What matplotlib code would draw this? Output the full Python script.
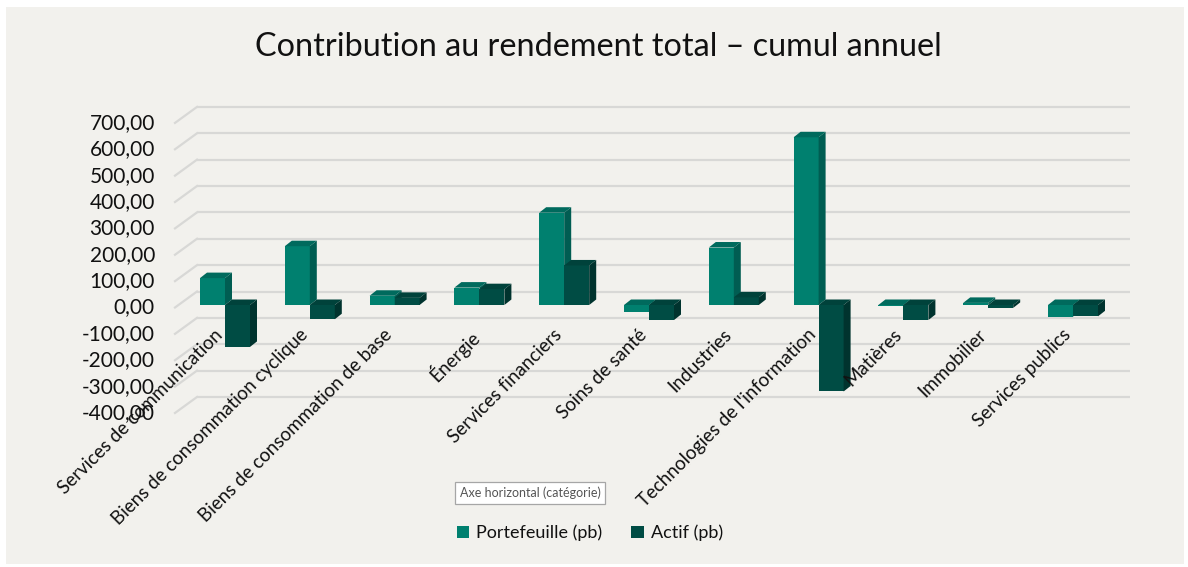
import matplotlib
matplotlib.use("Agg")
import matplotlib.pyplot as plt
from matplotlib.patches import Rectangle, Polygon
import matplotlib.transforms as mtransforms

categories = ["Services de communication", "Biens de consommation cyclique",
              "Biens de consommation de base", "Énergie", "Services financiers",
              "Soins de santé", "Industries", "Technologies de l'information",
              "Matières", "Immobilier", "Services publics"]
portefeuille = [102, 223, 35, 66, 350, -27, 218, 636, -3, 8, -44]
actif = [-159, -54, 27, 60, 150, -57, 29, -328, -57, -11, -43]
yticks = [-400, -300, -200, -100, 0, 100, 200, 300, 400, 500, 600, 700]
series_names = ["Portefeuille (pb)", "Actif (pb)"]

FONT = ["Lato", "DejaVu Sans"]
plt.rcParams["font.family"] = FONT

W, H, DPI = 1188, 567, 100
fig = plt.figure(figsize=(W / DPI, H / DPI), dpi=DPI, facecolor="white")

# panel background
fig.patches.append(Rectangle((6 / W, 3 / H), (1184 - 6) / W, (562 - 5) / H,
                             transform=fig.transFigure, facecolor="#f2f1ed",
                             edgecolor="none", zorder=-5))

# axes geometry (pixels from top-left)
ax_l, ax_r, ax_t, ax_b = 175, 1135, 95, 428
ax = fig.add_axes([ax_l / W, 1 - ax_b / H, (ax_r - ax_l) / W, (ax_b - ax_t) / H])
ax.set_facecolor("none")
ax.set_zorder(2)
px_per_x = 84.8
x0_px = 225
px_per_v = 0.2637
zero_px = 307.5
ax.set_xlim((ax_l - x0_px) / px_per_x, (ax_r - x0_px) / px_per_x)
ax.set_ylim((zero_px - ax_b) / px_per_v, (zero_px - ax_t) / px_per_v)
for s in ax.spines.values():
    s.set_visible(False)
ax.set_xticks([])
ax.set_yticks(yticks)
ax.set_yticklabels([f"{v:.2f}".replace(".", ",") for v in yticks],
                   fontsize=15, color="#111111")
ax.tick_params(axis="y", length=0, pad=14.4)
for lbl in ax.get_yticklabels():
    lbl.set_verticalalignment("center")

# back-wall gridlines
back_dx, back_dy = 22, 16  # pixels
back = ax.transData + mtransforms.ScaledTranslation(back_dx / DPI, back_dy / DPI,
                                                    fig.dpi_scale_trans)
xl, xr = ax.get_xlim()
grid_c = "#d8d8d6"
for v in yticks:
    ax.plot([xl, xr - 27 / px_per_x], [v, v], transform=back, color=grid_c,
            lw=1.6, zorder=1, solid_capstyle="butt", clip_on=False)
    ax.plot([xl, xl + back_dx / px_per_x], [v, v + back_dy / px_per_v],
            color=grid_c, lw=1.6, zorder=1, clip_on=False)

# 3D-looking bars (sitting slightly behind the front edge of the floor)
bar_tr = ax.transData + mtransforms.ScaledTranslation(0, 2.5 / DPI, fig.dpi_scale_trans)
dx = 7 / px_per_x
dy = 5.5 / px_per_v
bw = 25 / px_per_x
cols = [
    {"front": "#00806f", "side": "#005d52", "top": "#006a5d"},
    {"front": "#004c44", "side": "#00332e", "top": "#00423b"},
]


def bar3d(x0, v, c, z):
    ax.add_patch(Rectangle((x0, min(0, v)), bw, abs(v), facecolor=c["front"],
                           edgecolor="none", zorder=z, transform=bar_tr))
    t = max(v, 0)
    lo = min(v, 0)
    ax.add_patch(Polygon([(x0, t), (x0 + bw, t), (x0 + bw + dx, t + dy), (x0 + dx, t + dy)],
                         closed=True, facecolor=c["top"], edgecolor="none", zorder=z,
                         transform=bar_tr))
    ax.add_patch(Polygon([(x0 + bw, lo), (x0 + bw + dx, lo + dy), (x0 + bw + dx, t + dy), (x0 + bw, t)],
                         closed=True, facecolor=c["side"], edgecolor="none", zorder=z,
                         transform=bar_tr))


for i, (p, a) in enumerate(zip(portefeuille, actif)):
    bar3d(i - bw, p, cols[0], 3 + 2 * i)
    bar3d(i, a, cols[1], 4 + 2 * i)

# category labels
lab_tr = mtransforms.blended_transform_factory(ax.transData, ax.transAxes)
lab_y = (ax_b - 326) / (ax_b - ax_t)
for i, name in enumerate(categories):
    ax.text(i - 11 / px_per_x, lab_y, name, transform=lab_tr, rotation=45,
            rotation_mode="anchor", ha="right", va="top", fontsize=13.5,
            color="#111111", zorder=30, clip_on=False)

# title
fig.text(598 / W, 1 - 47 / H, "Contribution au rendement total – cumul annuel",
         ha="center", va="center", fontsize=23.3, color="#111111")

# axis-title box
fig.text(530 / W, 1 - 493 / H, "Axe horizontal (catégorie)", ha="center", va="center",
         fontsize=9, color="#555555",
         bbox=dict(boxstyle="square,pad=0.35", facecolor="white", edgecolor="#a6a6a6", lw=0.9))

# legend
handles = [Rectangle((0, 0), 1, 1, facecolor=cols[0]["front"]),
           Rectangle((0, 0), 1, 1, facecolor=cols[1]["front"])]
fig.legend(handles, series_names, loc="center", bbox_to_anchor=(590 / W, 1 - 533 / H),
           ncol=2, frameon=False, fontsize=13, handlelength=0.7, handleheight=0.7,
           handletextpad=0.4, columnspacing=1.6, labelcolor="#111111")

fig.savefig("out.png", dpi=DPI, facecolor="white")
